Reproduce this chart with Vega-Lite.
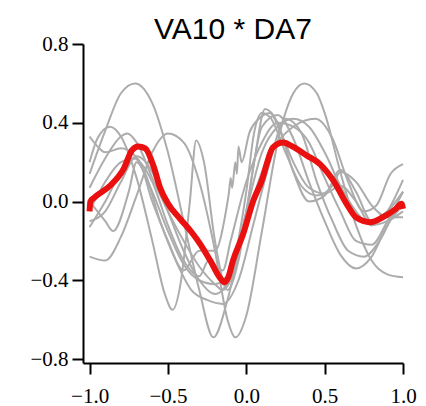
{
  "$schema": "https://vega.github.io/schema/vega-lite/v6.json",
  "width": 320,
  "height": 319,
  "autosize": "none",
  "padding": {"left": 83, "top": 44, "right": 23, "bottom": 43},
  "background": "white",
  "title": {"text": "VA10 * DA7", "font": "Liberation Sans", "fontSize": 30, "fontWeight": "normal", "color": "black", "offset": -12, "dx": -10},
  "config": {
    "view": {"stroke": null},
    "axis": {"grid": false, "title": null, "domainColor": "black", "domainWidth": 2, "tickColor": "black", "tickWidth": 2, "tickSize": 11, "labelColor": "black", "labelFont": "Liberation Serif", "labelFontSize": 21, "labelPadding": 4, "labelFlush": false, "labelOverlap": false, "labelBound": false},
    "axisX": {"labelPadding": 11}
  },
  "datasets": {
    "gray": [
      {"s":"c1","x":-1,"y":0.14},{"s":"c1","x":-0.9,"y":0.36},{"s":"c1","x":-0.8,"y":0.55},{"s":"c1","x":-0.71,"y":0.6},{"s":"c1","x":-0.6,"y":0.5},{"s":"c1","x":-0.5,"y":0.25},{"s":"c1","x":-0.4,"y":-0.1},{"s":"c1","x":-0.3,"y":-0.45},{"s":"c1","x":-0.21,"y":-0.69},{"s":"c1","x":-0.12,"y":-0.5},{"s":"c1","x":0,"y":-0.05},{"s":"c1","x":0.1,"y":0.38},{"s":"c1","x":0.2,"y":0.44},{"s":"c1","x":0.3,"y":0.32},{"s":"c1","x":0.4,"y":0.1},{"s":"c1","x":0.5,"y":-0.1},{"s":"c1","x":0.6,"y":-0.27},{"s":"c1","x":0.7,"y":-0.34},{"s":"c1","x":0.8,"y":-0.28},{"s":"c1","x":0.9,"y":-0.12},{"s":"c1","x":1,"y":-0.02},
      {"s":"c2","x":-1,"y":-0.28},{"s":"c2","x":-0.9,"y":-0.3},{"s":"c2","x":-0.8,"y":-0.18},{"s":"c2","x":-0.7,"y":0.03},{"s":"c2","x":-0.6,"y":0.25},{"s":"c2","x":-0.5,"y":0.345},{"s":"c2","x":-0.4,"y":0.3},{"s":"c2","x":-0.3,"y":0.1},{"s":"c2","x":-0.2,"y":-0.25},{"s":"c2","x":-0.12,"y":-0.6},{"s":"c2","x":-0.07,"y":-0.69},{"s":"c2","x":0,"y":-0.58},{"s":"c2","x":0.1,"y":-0.15},{"s":"c2","x":0.2,"y":0.3},{"s":"c2","x":0.3,"y":0.55},{"s":"c2","x":0.37,"y":0.6},{"s":"c2","x":0.45,"y":0.55},{"s":"c2","x":0.5,"y":0.45},{"s":"c2","x":0.6,"y":0.15},{"s":"c2","x":0.7,"y":-0.12},{"s":"c2","x":0.8,"y":-0.3},{"s":"c2","x":0.9,"y":-0.37},{"s":"c2","x":1,"y":-0.385},
      {"s":"c3","x":-1,"y":0.2},{"s":"c3","x":-0.95,"y":0.32},{"s":"c3","x":-0.87,"y":0.38},{"s":"c3","x":-0.8,"y":0.33},{"s":"c3","x":-0.7,"y":0.12},{"s":"c3","x":-0.6,"y":-0.2},{"s":"c3","x":-0.52,"y":-0.47},{"s":"c3","x":-0.47,"y":-0.55},{"s":"c3","x":-0.42,"y":-0.42},{"s":"c3","x":-0.36,"y":0.0},{"s":"c3","x":-0.32,"y":0.31},{"s":"c3","x":-0.27,"y":0.2},{"s":"c3","x":-0.2,"y":-0.2},{"s":"c3","x":-0.12,"y":-0.45},{"s":"c3","x":-0.05,"y":-0.3},{"s":"c3","x":0.05,"y":0.2},{"s":"c3","x":0.12,"y":0.47},{"s":"c3","x":0.2,"y":0.4},{"s":"c3","x":0.3,"y":0.15},{"s":"c3","x":0.4,"y":0.0},{"s":"c3","x":0.5,"y":0.03},{"s":"c3","x":0.6,"y":0.16},{"s":"c3","x":0.7,"y":0.05},{"s":"c3","x":0.8,"y":-0.1},{"s":"c3","x":0.9,"y":-0.05},{"s":"c3","x":1,"y":0.05},
      {"s":"c4","x":-1,"y":0.07},{"s":"c4","x":-0.9,"y":0.22},{"s":"c4","x":-0.8,"y":0.33},{"s":"c4","x":-0.76,"y":0.345},{"s":"c4","x":-0.7,"y":0.3},{"s":"c4","x":-0.6,"y":0.12},{"s":"c4","x":-0.5,"y":-0.05},{"s":"c4","x":-0.4,"y":-0.2},{"s":"c4","x":-0.3,"y":-0.33},{"s":"c4","x":-0.2,"y":-0.42},{"s":"c4","x":-0.15,"y":-0.45},{"s":"c4","x":-0.1,"y":-0.4},{"s":"c4","x":0,"y":-0.1},{"s":"c4","x":0.1,"y":0.15},{"s":"c4","x":0.2,"y":0.3},{"s":"c4","x":0.3,"y":0.38},{"s":"c4","x":0.44,"y":0.42},{"s":"c4","x":0.55,"y":0.32},{"s":"c4","x":0.65,"y":0.1},{"s":"c4","x":0.75,"y":-0.05},{"s":"c4","x":0.83,"y":-0.02},{"s":"c4","x":0.92,"y":0.14},{"s":"c4","x":1,"y":0.19},
      {"s":"c5","x":-1,"y":0.33},{"s":"c5","x":-0.95,"y":0.28},{"s":"c5","x":-0.9,"y":0.25},{"s":"c5","x":-0.8,"y":0.27},{"s":"c5","x":-0.72,"y":0.24},{"s":"c5","x":-0.6,"y":0.05},{"s":"c5","x":-0.5,"y":-0.15},{"s":"c5","x":-0.4,"y":-0.32},{"s":"c5","x":-0.3,"y":-0.4},{"s":"c5","x":-0.2,"y":-0.42},{"s":"c5","x":-0.1,"y":-0.35},{"s":"c5","x":0,"y":0.05},{"s":"c5","x":0.05,"y":0.35},{"s":"c5","x":0.1,"y":0.45},{"s":"c5","x":0.15,"y":0.43},{"s":"c5","x":0.25,"y":0.25},{"s":"c5","x":0.35,"y":0.08},{"s":"c5","x":0.45,"y":0.03},{"s":"c5","x":0.55,"y":0.08},{"s":"c5","x":0.6,"y":0.15},{"s":"c5","x":0.7,"y":0.1},{"s":"c5","x":0.8,"y":-0.02},{"s":"c5","x":0.9,"y":-0.08},{"s":"c5","x":1,"y":-0.08},
      {"s":"c6","x":-1,"y":-0.13},{"s":"c6","x":-0.9,"y":0.0},{"s":"c6","x":-0.8,"y":0.15},{"s":"c6","x":-0.72,"y":0.22},{"s":"c6","x":-0.6,"y":0.1},{"s":"c6","x":-0.5,"y":-0.12},{"s":"c6","x":-0.4,"y":-0.3},{"s":"c6","x":-0.3,"y":-0.38},{"s":"c6","x":-0.24,"y":-0.3},{"s":"c6","x":-0.15,"y":-0.35},{"s":"c6","x":-0.1,"y":-0.2},{"s":"c6","x":0,"y":0.1},{"s":"c6","x":0.1,"y":0.3},{"s":"c6","x":0.2,"y":0.4},{"s":"c6","x":0.3,"y":0.38},{"s":"c6","x":0.4,"y":0.3},{"s":"c6","x":0.5,"y":0.12},{"s":"c6","x":0.6,"y":-0.05},{"s":"c6","x":0.7,"y":-0.2},{"s":"c6","x":0.8,"y":-0.22},{"s":"c6","x":0.9,"y":-0.1},{"s":"c6","x":1,"y":0.05},
      {"s":"c7","x":-1,"y":0.0},{"s":"c7","x":-0.9,"y":-0.1},{"s":"c7","x":-0.85,"y":-0.15},{"s":"c7","x":-0.75,"y":0.05},{"s":"c7","x":-0.7,"y":0.2},{"s":"c7","x":-0.65,"y":0.15},{"s":"c7","x":-0.55,"y":-0.1},{"s":"c7","x":-0.45,"y":-0.3},{"s":"c7","x":-0.35,"y":-0.45},{"s":"c7","x":-0.25,"y":-0.5},{"s":"c7","x":-0.15,"y":-0.52},{"s":"c7","x":-0.05,"y":-0.4},{"s":"c7","x":0.05,"y":-0.1},{"s":"c7","x":0.15,"y":0.2},{"s":"c7","x":0.25,"y":0.42},{"s":"c7","x":0.35,"y":0.35},{"s":"c7","x":0.45,"y":0.1},{"s":"c7","x":0.55,"y":-0.1},{"s":"c7","x":0.65,"y":-0.25},{"s":"c7","x":0.75,"y":-0.28},{"s":"c7","x":0.85,"y":-0.2},{"s":"c7","x":0.95,"y":-0.05},{"s":"c7","x":1,"y":0.0},
      {"s":"c8","x":-1,"y":-0.05},{"s":"c8","x":-0.9,"y":0.1},{"s":"c8","x":-0.8,"y":0.2},{"s":"c8","x":-0.7,"y":0.22},{"s":"c8","x":-0.6,"y":0.0},{"s":"c8","x":-0.5,"y":-0.2},{"s":"c8","x":-0.4,"y":-0.35},{"s":"c8","x":-0.3,"y":-0.25},{"s":"c8","x":-0.2,"y":-0.25},{"s":"c8","x":-0.13,"y":-0.05},{"s":"c8","x":-0.11,"y":0.05},{"s":"c8","x":-0.1,"y":0.12},{"s":"c8","x":-0.09,"y":0.07},{"s":"c8","x":-0.07,"y":0.2},{"s":"c8","x":-0.06,"y":0.14},{"s":"c8","x":-0.05,"y":0.28},{"s":"c8","x":-0.03,"y":0.2},{"s":"c8","x":0.02,"y":0.35},{"s":"c8","x":0.08,"y":0.42},{"s":"c8","x":0.15,"y":0.45},{"s":"c8","x":0.22,"y":0.35},{"s":"c8","x":0.3,"y":0.2},{"s":"c8","x":0.4,"y":0.07},{"s":"c8","x":0.5,"y":0.04},{"s":"c8","x":0.6,"y":0.08},{"s":"c8","x":0.7,"y":0.0},{"s":"c8","x":0.8,"y":-0.12},{"s":"c8","x":0.9,"y":-0.1},{"s":"c8","x":1,"y":-0.05},
      {"s":"c9","x":-1,"y":-0.1},{"s":"c9","x":-0.9,"y":-0.05},{"s":"c9","x":-0.8,"y":0.1},{"s":"c9","x":-0.7,"y":0.23},{"s":"c9","x":-0.6,"y":0.15},{"s":"c9","x":-0.5,"y":-0.05},{"s":"c9","x":-0.4,"y":-0.25},{"s":"c9","x":-0.3,"y":-0.4},{"s":"c9","x":-0.2,"y":-0.47},{"s":"c9","x":-0.1,"y":-0.38},{"s":"c9","x":0,"y":-0.05},{"s":"c9","x":0.1,"y":0.25},{"s":"c9","x":0.2,"y":0.38},{"s":"c9","x":0.3,"y":0.42},{"s":"c9","x":0.4,"y":0.38},{"s":"c9","x":0.5,"y":0.25},{"s":"c9","x":0.6,"y":0.08},{"s":"c9","x":0.7,"y":-0.05},{"s":"c9","x":0.8,"y":-0.12},{"s":"c9","x":0.9,"y":-0.05},{"s":"c9","x":1,"y":0.11}
    ],
    "mean": [
      {"x":-1,"y":-0.05},{"x":-0.995,"y":0.0},{"x":-0.97,"y":0.02},{"x":-0.87,"y":0.08},{"x":-0.78,"y":0.17},{"x":-0.73,"y":0.26},{"x":-0.69,"y":0.28},{"x":-0.645,"y":0.27},{"x":-0.59,"y":0.175},{"x":-0.55,"y":0.07},{"x":-0.5,"y":-0.01},{"x":-0.42,"y":-0.09},{"x":-0.35,"y":-0.155},{"x":-0.295,"y":-0.215},{"x":-0.23,"y":-0.3},{"x":-0.17,"y":-0.385},{"x":-0.14,"y":-0.41},{"x":-0.115,"y":-0.385},{"x":-0.085,"y":-0.3},{"x":-0.02,"y":-0.165},{"x":0.045,"y":0.005},{"x":0.105,"y":0.12},{"x":0.13,"y":0.19},{"x":0.17,"y":0.275},{"x":0.235,"y":0.3},{"x":0.3,"y":0.277},{"x":0.385,"y":0.234},{"x":0.47,"y":0.19},{"x":0.555,"y":0.107},{"x":0.64,"y":-0.012},{"x":0.7,"y":-0.08},{"x":0.79,"y":-0.105},{"x":0.87,"y":-0.08},{"x":0.955,"y":-0.037},{"x":0.99,"y":-0.012},{"x":1,"y":-0.037}
    ]
  },
  "layer": [
    {
      "data": {"name": "gray"},
      "mark": {"type": "line", "color": "#acacac", "strokeWidth": 2, "interpolate": "monotone"},
      "encoding": {
        "x": {"field": "x", "type": "quantitative", "scale": {"domain": [-1.042, 1], "nice": false, "zero": false}, "axis": {"values": [-1, -0.5, 0, 0.5, 1], "format": ".1f"}},
        "y": {"field": "y", "type": "quantitative", "scale": {"domain": [-0.8203, 0.8], "nice": false, "zero": false}, "axis": {"values": [-0.8, -0.4, 0, 0.4, 0.8], "format": ".1f"}},
        "detail": {"field": "s", "type": "nominal"}
      }
    },
    {
      "data": {"name": "mean"},
      "mark": {"type": "line", "color": "#eb1010", "strokeWidth": 6, "interpolate": "monotone"},
      "encoding": {
        "x": {"field": "x", "type": "quantitative"},
        "y": {"field": "y", "type": "quantitative"}
      }
    }
  ]
}
